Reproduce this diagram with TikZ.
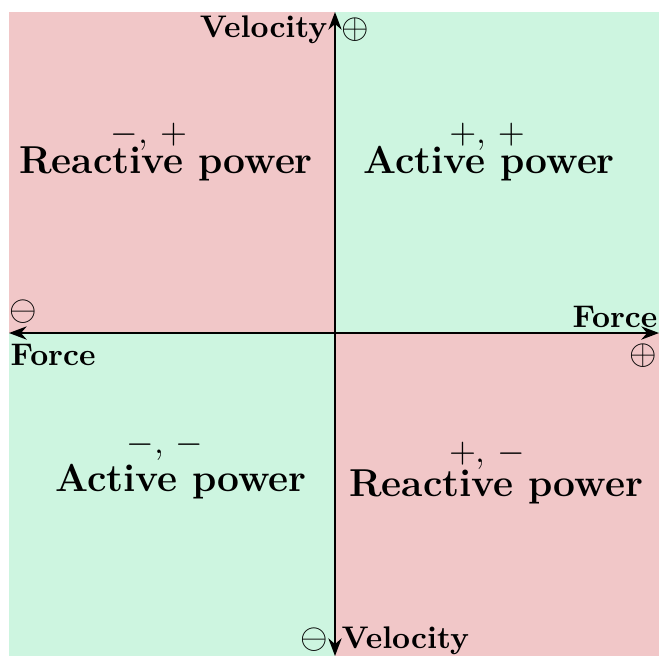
\documentclass[tikz,border=0pt]{standalone}
\usetikzlibrary{arrows.meta}
\definecolor{pinkq}{RGB}{241,199,200}
\definecolor{greenq}{RGB}{205,245,224}
\tikzset{
  axis/.style={line width=0.7pt,-{Stealth[length=6pt,width=4.5pt]}},
  axlabel/.style={font=\bfseries\fontsize{10.6}{13}\selectfont, inner sep=0pt},
  sign/.style={font=\fontsize{13}{16}\selectfont, inner sep=0pt},
  powerlbl/.style={font=\bfseries\fontsize{13.2}{16}\selectfont, inner sep=0pt},
  pairlbl/.style={font=\fontsize{12.2}{14}\selectfont, inner sep=0pt},
}
\begin{document}
\begin{tikzpicture}[x=0.339pt,y=-0.339pt]
\useasboundingbox (0,0) rectangle (659,656);
% quadrants
\fill[pinkq]  (9,12) rectangle (335,333);
\fill[greenq] (335,12) rectangle (659,333);
\fill[greenq] (9,333) rectangle (335,656);
\fill[pinkq]  (335,333) rectangle (659,656);
% axis end points
\coordinate (o) at (335,333);
\coordinate (xl) at (9,333);
\coordinate (xr) at (659,333);
\coordinate (yt) at (335,12);
\coordinate (yb) at (335,656);
\draw[axis] (o) -- (xr);
\draw[axis] (o) -- (xl);
\draw[axis] (o) -- (yt);
\draw[axis] (o) -- (yb);
% axis labels
\node[axlabel, anchor=east] (vt) at (328,30) {Velocity};
\node[sign] (vtp) at (355,30) {$\oplus$};
\node[axlabel, anchor=east] (fr) at (658,317) {Force};
\node[sign] (frp) at (643,356) {$\oplus$};
\node[sign] (flm) at (23,312) {$\ominus$};
\node[axlabel, anchor=west] (fl) at (10,355) {Force};
\node[sign] (vbm) at (314,640) {$\ominus$};
\node[axlabel, anchor=west] (vb) at (341,641) {Velocity};
% quadrant labels
\node[pairlbl] (p1) at (149,137) {$-$, $+$};
\node[powerlbl] (t1) at (166,164) {Reactive power};
\node[pairlbl] (p2) at (487,137) {$+$, $+$};
\node[powerlbl] (t2) at (489,164) {Active power};
\node[pairlbl] (p3) at (165,447) {$-$, $-$};
\node[powerlbl] (t3) at (181,482) {Active power};
\node[pairlbl] (p4) at (487,456) {$+$, $-$};
\node[powerlbl] (t4) at (496,487) {Reactive power};
\end{tikzpicture}
\end{document}
